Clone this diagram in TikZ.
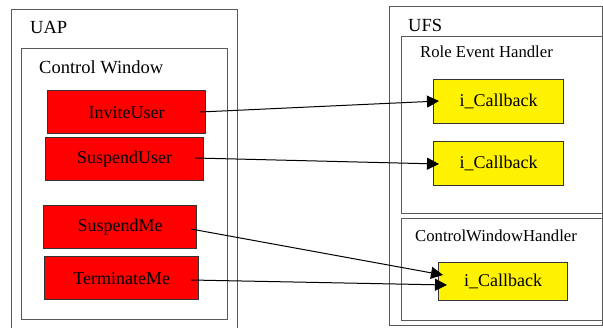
\documentclass[tikz,border=0pt]{standalone}
\usepackage{fontspec}
\setmainfont{Liberation Serif}
\usetikzlibrary{arrows.meta}
\begin{document}
\begin{tikzpicture}[x=1pt,y=-1pt,
  frame/.style={draw=black!65,line width=1pt},
  btn/.style={draw=black!80,line width=1.4pt,fill=red,anchor=north west,inner sep=0pt,font=\fontsize{18}{21}\selectfont},
  cb/.style={draw=black!80,line width=1.4pt,fill=yellow,anchor=north west,inner sep=0pt,font=\fontsize{18}{21}\selectfont},
  lbl/.style={anchor=west,inner sep=0pt,font=\fontsize{18.5}{21}\selectfont},
  slbl/.style={anchor=west,inner sep=0pt,font=\fontsize{16.7}{19}\selectfont},
  conn/.style={draw=black,line width=1pt,-{Triangle[length=12pt,width=12pt]}}]
\useasboundingbox (0,0) rectangle (603,327);
% UAP frame (open at bottom)
\draw[frame] (11,330) -- (11,9) -- (237,9) -- (237,330);
\node[lbl] (uap) at (30,27) {UAP};
% Control Window
\draw[frame] (21,48) rectangle (227,319);
\node[lbl] (cw) at (39,67) {Control Window};
% buttons
\node[btn,minimum width=158pt,minimum height=43pt] (inv) at (47,90) {InviteUser};
\node[btn,minimum width=158pt,minimum height=43pt] (susu) at (45,137) {SuspendUser};
\node[btn,minimum width=153pt,minimum height=43pt] (susm) at (43,205) {SuspendMe};
\node[btn,minimum width=154pt,minimum height=43pt] (term) at (44,256) {TerminateMe};
% UFS
\draw[frame] (389,6) rectangle (602,325);
\node[lbl] (ufs) at (408,25) {UFS};
\draw[frame] (401,36) rectangle (602,213);
\node[slbl] (reh) at (420,52) {Role Event Handler};
\draw[frame] (401,218) rectangle (602,320);
\node[slbl] (cwh) at (415,236) {ControlWindowHandler};
\node[cb,minimum width=130pt,minimum height=44pt] (cb1) at (433,79) {i\_Callback};
\node[cb,minimum width=130pt,minimum height=44pt] (cb2) at (433,141) {i\_Callback};
\node[cb,minimum width=129pt,minimum height=38pt] (cb3) at (438,262) {i\_Callback};
% connector ends
\coordinate (s1) at (200,112);
\coordinate (e1) at (439,101);
\coordinate (s2) at (195,158);
\coordinate (e2) at (439,164);
\coordinate (s3) at (191,229);
\coordinate (e3) at (443,275);
\coordinate (s4) at (191,280);
\coordinate (e4) at (447,285);
\draw[conn] (s1) -- (e1);
\draw[conn] (s2) -- (e2);
\draw[conn] (s3) -- (e3);
\draw[conn] (s4) -- (e4);
\end{tikzpicture}
\end{document}
